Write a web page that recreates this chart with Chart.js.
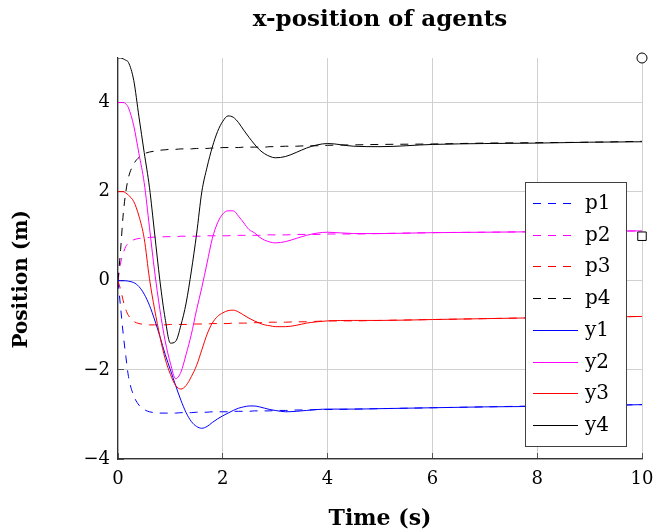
<!DOCTYPE html>
<html>
<head>
<meta charset="utf-8">
<script src="https://cdn.jsdelivr.net/npm/chart.js@4"></script>
<style>
  html, body { margin: 0; padding: 0; background: #ffffff; }
  #wrap { width: 657px; height: 532px; }
</style>
</head>
<body>
<div id="wrap"><canvas id="c" width="657" height="532"></canvas></div>
<script>
// ---------------- data ----------------
const time = [0,0.05,0.1,0.15,0.2,0.3,0.4,0.5,0.6,0.7,0.8,0.9,1.0,1.1,1.2,1.3,1.4,1.5,1.6,1.7,1.8,1.9,2.0,2.1,2.2,2.3,2.4,2.5,2.6,2.7,2.8,2.9,3.0,3.2,3.4,3.6,3.8,4.0,4.5,5,6,7,8,9,10];

const p1 = [0,-0.6,-1.2,-1.7,-2.15,-2.58,-2.79,-2.89,-2.94,-2.96,-2.97,-2.97,-2.97,-2.97,-2.96,-2.96,-2.96,-2.95,-2.95,-2.95,-2.94,-2.94,-2.94,-2.94,-2.93,-2.93,-2.93,-2.93,-2.92,-2.92,-2.92,-2.92,-2.91,-2.91,-2.9,-2.9,-2.89,-2.89,-2.88,-2.87,-2.85,-2.83,-2.81,-2.8,-2.78];
const p2 = [0,0.4,0.62,0.77,0.85,0.92,0.95,0.96,0.97,0.98,0.98,0.99,0.99,0.99,1.0,1.0,1.0,1.0,1.0,1.01,1.01,1.01,1.01,1.01,1.02,1.02,1.02,1.02,1.02,1.02,1.03,1.03,1.03,1.03,1.04,1.04,1.04,1.05,1.05,1.06,1.08,1.09,1.1,1.11,1.12];
const p3 = [0,-0.2,-0.45,-0.65,-0.78,-0.91,-0.96,-0.98,-0.99,-0.99,-0.99,-0.99,-0.98,-0.98,-0.98,-0.98,-0.97,-0.97,-0.97,-0.97,-0.96,-0.96,-0.96,-0.96,-0.95,-0.95,-0.95,-0.95,-0.94,-0.94,-0.94,-0.93,-0.93,-0.93,-0.92,-0.92,-0.91,-0.9,-0.9,-0.89,-0.87,-0.85,-0.83,-0.82,-0.8];
const p4 = [0,0.7,1.5,2.0,2.32,2.62,2.77,2.85,2.89,2.91,2.93,2.94,2.95,2.95,2.96,2.96,2.96,2.97,2.97,2.97,2.98,2.98,2.99,2.99,2.99,2.99,3.0,3.0,3.0,3.0,3.0,3.01,3.01,3.02,3.02,3.03,3.03,3.04,3.05,3.06,3.07,3.09,3.1,3.11,3.13];

const y1 = [0,0,0,0,-0.01,-0.04,-0.13,-0.3,-0.55,-0.88,-1.25,-1.65,-2.0,-2.35,-2.68,-2.96,-3.16,-3.27,-3.31,-3.27,-3.18,-3.1,-3.03,-2.97,-2.91,-2.86,-2.83,-2.81,-2.81,-2.83,-2.86,-2.89,-2.91,-2.94,-2.93,-2.91,-2.89,-2.88,-2.88,-2.87,-2.85,-2.83,-2.82,-2.8,-2.78];
const y2 = [4,4,4,3.97,3.88,3.48,2.85,2.2,1.2,0.2,-0.65,-1.35,-1.85,-2.2,-2.05,-1.65,-1.2,-0.65,-0.15,0.4,0.95,1.3,1.5,1.57,1.57,1.45,1.3,1.15,1.08,0.98,0.91,0.87,0.85,0.88,0.95,1.02,1.07,1.09,1.06,1.06,1.08,1.09,1.1,1.11,1.12];
const y3 = [2,2,2,1.97,1.92,1.78,1.45,0.95,0.05,-0.65,-1.25,-1.75,-2.1,-2.35,-2.43,-2.35,-2.15,-1.9,-1.55,-1.2,-0.95,-0.8,-0.72,-0.67,-0.66,-0.7,-0.77,-0.84,-0.9,-0.95,-0.99,-1.01,-1.03,-1.03,-1.0,-0.95,-0.92,-0.9,-0.89,-0.89,-0.87,-0.85,-0.83,-0.82,-0.8];
const y4 = [5,5,4.98,4.95,4.9,4.5,3.68,2.88,2.1,1.05,0.0,-0.85,-1.4,-1.36,-1.0,-0.5,0.22,1.05,2.0,2.55,3.0,3.35,3.58,3.7,3.67,3.55,3.38,3.22,3.07,2.94,2.85,2.79,2.76,2.79,2.88,2.98,3.05,3.08,3.02,3.01,3.06,3.08,3.09,3.11,3.12];

const seriesLabels = ['p1','p2','p3','p4','y1','y2','y3','y4'];
const xTicks = [0, 2, 4, 6, 8, 10];
const yTicks = [-4, -2, 0, 2, 4];
const circleMarker = [{x: 10, y: 5}];
const squareMarker = [{x: 10, y: 1}];

// ---------------- styling ----------------
const FONT = '"DejaVu Serif", "Liberation Serif", serif';
const colors = ['#0000ff', '#ff00ff', '#ff0000', '#000000', '#0000ff', '#ff00ff', '#ff0000', '#000000'];
const DASH = [8, 7];
const seriesValues = [p1, p2, p3, p4, y1, y2, y3, y4];

function toPoints(vals) { return time.map((t, i) => ({x: t, y: vals[i]})); }

const datasets = seriesValues.map((vals, k) => ({
  label: seriesLabels[k],
  data: toPoints(vals),
  borderColor: colors[k],
  backgroundColor: colors[k],
  borderWidth: 1,
  borderDash: k < 4 ? DASH : [],
  pointRadius: 0,
  fill: false,
  cubicInterpolationMode: 'monotone',
  order: 8 - k
}));
datasets.push({
  label: 'circle', data: circleMarker, showLine: false, pointStyle: 'circle',
  pointRadius: 5, borderColor: '#000', backgroundColor: '#fff', borderWidth: 1, clip: false
});
datasets.push({
  label: 'square', data: squareMarker, showLine: false, pointStyle: 'rect',
  pointRadius: 6, borderColor: '#000', backgroundColor: '#fff', borderWidth: 1, clip: false
});

const fmt = v => (v < 0 ? '\u2212' + Math.abs(v) : String(v));

const boxLegend = {
  id: 'boxLegend',
  afterDraw(chart) {
    const ctx = chart.ctx, a = chart.chartArea;
    const rowH = 31.7, boxW = 101, boxH = 264;
    const right = a.right - 16, bottom = a.bottom - 13;
    const left = right - boxW, top = bottom - boxH;
    ctx.save();
    ctx.fillStyle = '#ffffff';
    ctx.fillRect(left, top, boxW, boxH);
    ctx.strokeStyle = '#404040';
    ctx.lineWidth = 1;
    ctx.strokeRect(Math.round(left) + 0.5, Math.round(top) + 0.5, boxW, boxH);
    seriesLabels.forEach((lab, i) => {
      const y = Math.round(top + 21 + i * rowH) + 0.5;
      ctx.strokeStyle = colors[i];
      ctx.lineWidth = 1.2;
      ctx.setLineDash(i < 4 ? DASH : []);
      ctx.beginPath();
      ctx.moveTo(left + 8, y);
      ctx.lineTo(left + 53, y);
      ctx.stroke();
      ctx.setLineDash([]);
      ctx.fillStyle = '#000';
      ctx.font = '20px ' + FONT;
      ctx.textBaseline = 'middle';
      ctx.textAlign = 'left';
      ctx.fillText(lab, left + 60, y);
    });
    ctx.restore();
  }
};

new Chart(document.getElementById('c'), {
  type: 'line',
  data: { datasets },
  options: {
    responsive: false,
    animation: false,
    devicePixelRatio: 1,
    layout: { autoPadding: false, padding: { left: 10, right: 15, top: 0, bottom: 0 } },
    plugins: {
      legend: { display: false },
      tooltip: { enabled: false },
      title: {
        display: true,
        fullSize: false,
        text: 'x-position of agents',
        color: '#000',
        font: { family: FONT, size: 23, weight: 'bold', lineHeight: 1.2 },
        padding: { top: 6, bottom: 24.4 }
      }
    },
    scales: {
      x: {
        type: 'linear', min: 0, max: 10,
        afterBuildTicks: s => { s.ticks = xTicks.map(v => ({value: v})); },
        afterFit: s => { s.height = 73; s.paddingLeft = 0; s.paddingRight = 0; },
        ticks: { color: '#000', font: { family: FONT, size: 18 }, padding: 16, maxRotation: 0, autoSkip: false, callback: fmt },
        grid: { color: '#d0d0d0', lineWidth: 1, drawTicks: true, tickLength: -6, tickColor: '#555' },
        border: { display: true, color: '#333', width: 1.2 },
        title: { display: true, text: 'Time (s)', color: '#000', font: { family: FONT, size: 22, weight: 'bold', lineHeight: 1.2 }, padding: 0 }
      },
      y: {
        type: 'linear', min: -4, max: 5,
        afterBuildTicks: s => { s.ticks = yTicks.map(v => ({value: v})); },
        afterFit: s => { s.width = 108; s.paddingTop = 0; s.paddingBottom = 0; },
        ticks: { color: '#000', font: { family: FONT, size: 18 }, padding: 14, autoSkip: false, callback: fmt },
        grid: { color: '#d0d0d0', lineWidth: 1, drawTicks: true, tickLength: -6, tickColor: '#555' },
        border: { display: true, color: '#333', width: 1.2 },
        title: { display: true, text: 'Position (m)\u00a0\u00a0\u00a0\u00a0\u00a0\u00a0', color: '#000', font: { family: FONT, size: 20, weight: 'bold', lineHeight: 1.2 }, padding: 0 }
      }
    }
  },
  plugins: [boxLegend]
});
</script>
</body>
</html>
